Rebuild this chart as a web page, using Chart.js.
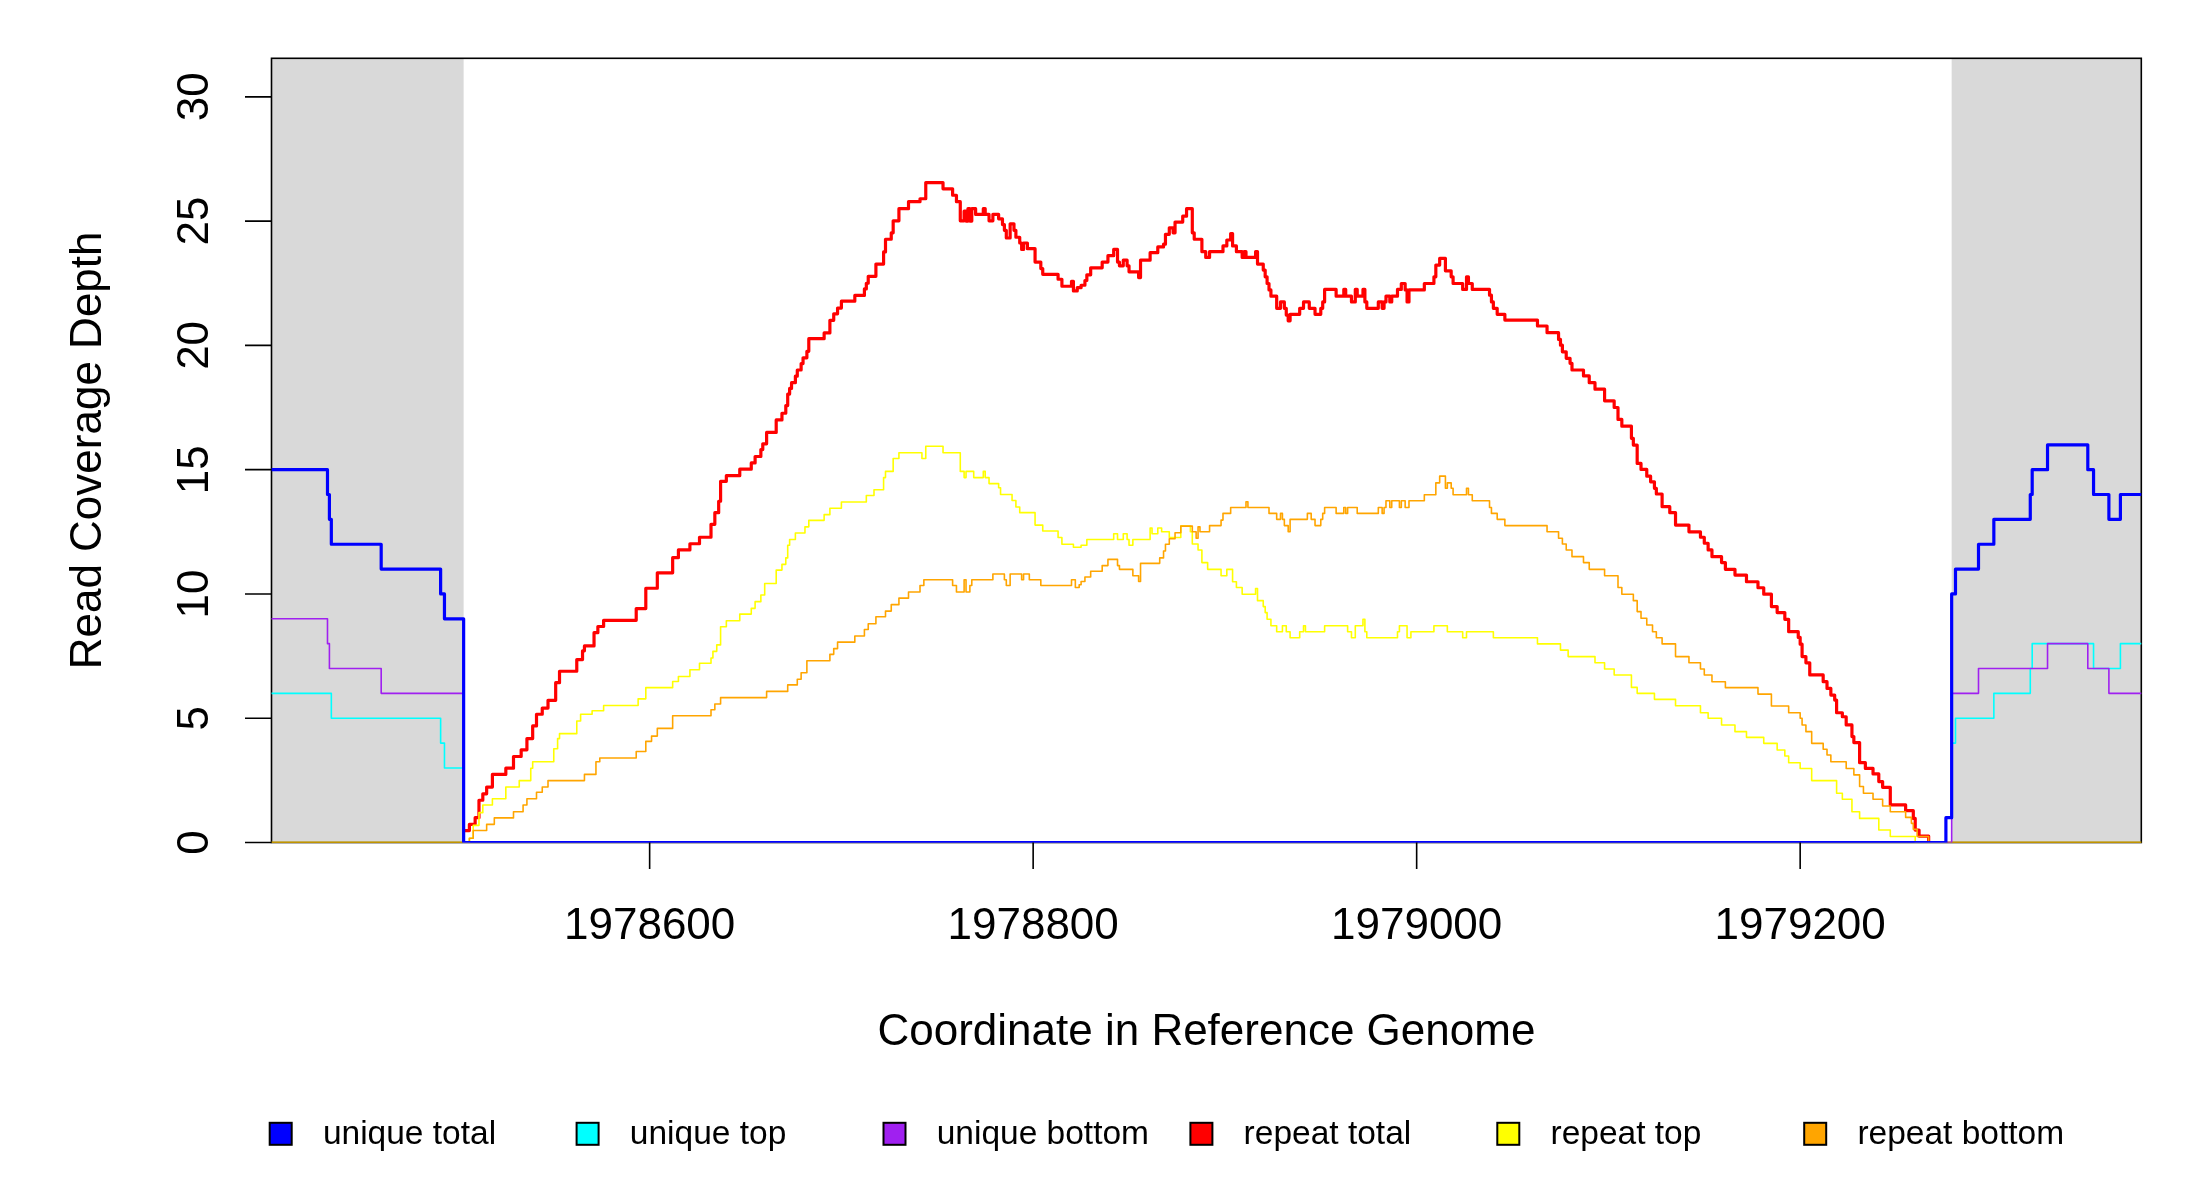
<!DOCTYPE html>
<html>
<head>
<meta charset="utf-8">
<title>Read Coverage Depth</title>
<script src="https://cdn.jsdelivr.net/npm/chart.js@4/dist/chart.umd.min.js"></script>
<style>
  html, body { margin: 0; padding: 0; background: #ffffff; overflow: hidden; }
  #c { display: block; width: 2200px; height: 1200px; }
</style>
</head>
<body>
<canvas id="c" width="2200" height="1200"></canvas>
<script>
// ---------------- data ----------------
const xTitle = 'Coordinate in Reference Genome';
const yTitle = 'Read Coverage Depth';
const seriesLabels = ['unique total', 'unique top', 'unique bottom', 'repeat total', 'repeat top', 'repeat bottom'];
const xTickValues = [1978600, 1978800, 1979000, 1979200];
const yTickValues = [0, 5, 10, 15, 20, 25, 30];
const xRange = [1978402.8, 1979377.9];
const yRange = [0, 31.55];
const flankStarts = [1978402.8, 1979279];
const flankEnds = [1978503, 1979377.9];

const uniqueTotalX = [1978402,1978432,1978433,1978434,1978460,1978491,1978493,1978503,1979276,1979279,1979281,1979293,1979301,1979320,1979321,1979329,1979350,1979353,1979361,1979367,1979379];
const uniqueTotalY = [15,14,13,12,11,10,9,0,1,10,11,12,13,14,15,16,15,14,13,14,14];

const uniqueTopX = [1978402,1978434,1978491,1978493,1978503,1979276,1979279,1979281,1979301,1979320,1979321,1979353,1979367,1979379];
const uniqueTopY = [6,5,4,3,0,1,4,5,6,7,8,7,8,8];

const uniqueBottomX = [1978402,1978432,1978433,1978460,1978503,1979279,1979293,1979329,1979350,1979361,1979379];
const uniqueBottomY = [9,8,7,6,0,6,7,8,7,6,6];

const repeatTotalX = [1978503,1978506,1978509,1978511,1978513,1978515,1978518,1978525,1978529,1978533,1978536,1978539,1978541,1978544,1978547,1978551,1978553,1978562,1978565,1978566,1978571,1978573,1978576,1978593,1978598,1978604,1978612,1978615,1978621,1978626,1978632,1978634,1978636,1978637,1978640,1978647,1978653,1978655,1978658,1978659,1978661,1978666,1978669,1978671,1978672,1978673,1978674,1978676,1978677,1978679,1978680,1978682,1978683,1978691,1978694,1978696,1978698,1978700,1978707,1978712,1978713,1978714,1978718,1978722,1978723,1978726,1978727,1978730,1978735,1978741,1978744,1978753,1978758,1978760,1978762,1978764,1978765,1978766,1978767,1978768,1978770,1978774,1978775,1978777,1978779,1978782,1978784,1978785,1978786,1978788,1978790,1978791,1978793,1978794,1978795,1978797,1978801,1978804,1978805,1978813,1978815,1978820,1978821,1978823,1978825,1978827,1978828,1978830,1978836,1978839,1978842,1978844,1978845,1978847,1978849,1978850,1978855,1978856,1978861,1978865,1978868,1978869,1978871,1978873,1978874,1978878,1978880,1978883,1978884,1978888,1978890,1978892,1978899,1978901,1978903,1978904,1978906,1978909,1978910,1978911,1978916,1978917,1978920,1978921,1978922,1978923,1978924,1978927,1978929,1978931,1978932,1978933,1978934,1978939,1978941,1978944,1978947,1978950,1978951,1978952,1978958,1978962,1978963,1978966,1978968,1978969,1978972,1978973,1978974,1978980,1978982,1978983,1978984,1978986,1978987,1978990,1978992,1978994,1978995,1978996,1979004,1979009,1979010,1979012,1979015,1979018,1979019,1979024,1979026,1979027,1979029,1979038,1979039,1979040,1979042,1979046,1979063,1979068,1979074,1979075,1979076,1979078,1979080,1979081,1979087,1979090,1979093,1979098,1979103,1979105,1979107,1979112,1979113,1979115,1979117,1979120,1979122,1979124,1979125,1979128,1979132,1979135,1979142,1979148,1979150,1979152,1979154,1979159,1979161,1979166,1979172,1979178,1979181,1979185,1979188,1979192,1979194,1979199,1979200,1979201,1979203,1979205,1979212,1979214,1979216,1979218,1979219,1979222,1979224,1979227,1979228,1979231,1979234,1979238,1979241,1979243,1979247,1979255,1979259,1979260,1979262,1979267];
const repeatTotalY = [0.48,0.73,1.0,1.7,1.96,2.23,2.74,2.99,3.46,3.73,4.18,4.69,5.16,5.41,5.72,6.43,6.89,7.36,7.71,7.91,8.44,8.69,8.94,9.41,10.23,10.85,11.46,11.77,12.02,12.28,12.8,13.27,13.73,14.53,14.76,15.02,15.27,15.53,15.81,16.04,16.5,17.0,17.27,17.58,18.04,18.27,18.5,18.76,19.01,19.27,19.5,19.76,20.27,20.5,21.01,21.27,21.5,21.78,22.01,22.27,22.5,22.78,23.27,23.76,24.27,24.53,25.01,25.5,25.78,25.9,26.55,26.3,26.04,25.78,25.01,25.4,25.0,25.5,25.0,25.5,25.27,25.5,25.27,25.01,25.27,25.09,24.86,24.63,24.32,24.89,24.63,24.35,24.12,23.86,24.12,23.89,23.35,23.09,22.86,22.66,22.38,22.58,22.19,22.32,22.42,22.61,22.84,23.12,23.35,23.61,23.86,23.35,23.2,23.43,23.2,22.96,22.73,23.43,23.73,23.96,24.07,24.47,24.73,24.53,24.96,25.2,25.5,24.53,24.27,23.77,23.54,23.77,24.0,24.24,24.5,24.0,23.77,23.54,23.77,23.54,23.77,23.27,23.03,22.76,22.49,22.23,21.98,21.49,21.75,21.49,21.22,20.99,21.25,21.49,21.75,21.49,21.25,21.49,21.75,22.25,21.98,22.25,21.98,21.75,22.25,21.98,22.25,21.75,21.49,21.75,21.49,21.75,21.98,21.75,21.98,22.25,22.49,22.23,21.75,22.23,22.49,22.76,23.23,23.5,23.0,22.76,22.49,22.25,22.76,22.49,22.25,22.02,21.75,21.49,21.25,21.02,20.78,20.51,20.24,20.01,19.74,19.48,19.28,19.01,18.77,18.5,18.24,17.77,17.5,17.02,16.75,16.26,15.99,15.25,15.01,14.74,14.51,14.25,14.02,13.51,13.27,12.77,12.5,12.28,12.04,11.77,11.5,11.26,10.99,10.76,10.49,10.25,9.99,9.49,9.25,8.98,8.48,8.25,7.98,7.48,7.23,6.74,6.47,6.2,5.93,5.73,5.22,5.06,4.73,4.26,4.02,3.21,2.98,2.76,2.45,2.22,1.51,1.28,0.97,0.5,0.26,0];

const repeatTopX = [1978402,1978506,1978508,1978511,1978513,1978518,1978525,1978532,1978538,1978539,1978550,1978552,1978553,1978562,1978564,1978570,1978576,1978594,1978598,1978612,1978615,1978621,1978626,1978632,1978633,1978635,1978637,1978640,1978647,1978653,1978655,1978658,1978660,1978666,1978669,1978671,1978672,1978673,1978676,1978681,1978683,1978691,1978694,1978700,1978713,1978717,1978722,1978723,1978727,1978730,1978742,1978744,1978753,1978762,1978764,1978765,1978769,1978774,1978775,1978777,1978782,1978783,1978789,1978791,1978793,1978801,1978805,1978813,1978815,1978821,1978825,1978828,1978842,1978844,1978847,1978849,1978850,1978852,1978861,1978862,1978865,1978867,1978871,1978877,1978882,1978883,1978886,1978888,1978891,1978898,1978901,1978904,1978906,1978909,1978916,1978917,1978920,1978921,1978922,1978924,1978927,1978930,1978932,1978934,1978939,1978941,1978942,1978952,1978964,1978966,1978968,1978972,1978973,1978974,1978990,1978991,1978995,1978997,1979009,1979016,1979024,1979026,1979040,1979063,1979075,1979079,1979093,1979098,1979103,1979112,1979115,1979124,1979135,1979148,1979152,1979159,1979166,1979172,1979181,1979188,1979192,1979194,1979200,1979206,1979219,1979222,1979227,1979231,1979241,1979247,1979260,1979379];
const repeatTopY = [0,0.17,0.69,1.2,1.51,1.76,2.23,2.49,2.99,3.25,3.77,4.18,4.38,4.89,5.16,5.3,5.51,5.78,6.23,6.48,6.68,6.95,7.21,7.42,7.69,7.95,8.68,8.92,9.19,9.42,9.69,9.96,10.42,10.96,11.19,11.45,11.96,12.19,12.45,12.7,12.96,13.19,13.45,13.7,13.96,14.19,14.68,14.93,15.45,15.68,15.45,15.94,15.68,14.93,14.68,14.93,14.68,14.93,14.68,14.44,14.27,14.0,13.76,13.5,13.27,12.77,12.53,12.27,12.0,11.88,11.96,12.19,12.42,12.19,12.42,12.19,11.96,12.19,12.65,12.42,12.65,12.5,12.27,12.73,12.5,12.01,11.77,11.26,10.99,10.73,10.99,10.49,10.26,9.99,10.22,9.73,9.49,9.25,8.98,8.72,8.48,8.72,8.48,8.24,8.48,8.72,8.48,8.72,8.48,8.24,8.72,8.98,8.48,8.24,8.48,8.72,8.24,8.48,8.72,8.48,8.24,8.48,8.24,7.99,7.74,7.48,7.23,6.98,6.74,6.24,6.0,5.76,5.5,5.22,5.0,4.73,4.46,4.23,3.99,3.72,3.48,3.21,2.98,2.49,1.98,1.74,1.24,0.97,0.5,0.24,0,0];

const repeatBottomX = [1978402,1978506,1978508,1978515,1978519,1978529,1978534,1978536,1978541,1978544,1978547,1978566,1978572,1978574,1978593,1978598,1978601,1978604,1978612,1978632,1978634,1978637,1978661,1978672,1978677,1978679,1978682,1978694,1978696,1978698,1978707,1978712,1978714,1978718,1978723,1978726,1978730,1978735,1978741,1978743,1978758,1978760,1978764,1978765,1978767,1978768,1978779,1978785,1978786,1978788,1978794,1978795,1978798,1978804,1978820,1978822,1978824,1978825,1978827,1978830,1978836,1978839,1978844,1978845,1978852,1978855,1978856,1978866,1978868,1978869,1978871,1978874,1978877,1978883,1978885,1978886,1978887,1978892,1978898,1978899,1978903,1978911,1978912,1978923,1978927,1978929,1978930,1978931,1978933,1978934,1978943,1978945,1978947,1978950,1978951,1978952,1978958,1978962,1978963,1978964,1978969,1978980,1978982,1978983,1978984,1978986,1978987,1978991,1978992,1978994,1978996,1979004,1979010,1979012,1979015,1979016,1979018,1979019,1979026,1979027,1979029,1979038,1979039,1979042,1979046,1979068,1979074,1979076,1979078,1979081,1979087,1979090,1979098,1979105,1979107,1979113,1979115,1979117,1979120,1979123,1979125,1979128,1979135,1979142,1979148,1979150,1979154,1979161,1979178,1979185,1979194,1979200,1979201,1979203,1979206,1979212,1979214,1979216,1979224,1979228,1979231,1979233,1979238,1979243,1979247,1979255,1979258,1979259,1979261,1979267,1979379];
const repeatBottomY = [0,0.17,0.48,0.73,0.99,1.24,1.51,1.76,2.02,2.23,2.49,2.74,3.25,3.4,3.66,4.07,4.28,4.59,5.1,5.34,5.57,5.83,6.08,6.34,6.57,6.83,7.31,7.57,7.8,8.06,8.31,8.57,8.8,9.08,9.31,9.57,9.83,10.08,10.34,10.57,10.34,10.08,10.57,10.08,10.34,10.57,10.8,10.57,10.34,10.8,10.57,10.8,10.57,10.34,10.57,10.26,10.37,10.5,10.68,10.91,11.14,11.39,11.14,10.99,10.73,10.5,11.23,11.45,11.73,12.0,12.22,12.46,12.73,12.5,12.24,12.7,12.5,12.75,12.97,13.24,13.48,13.71,13.48,13.24,13.0,13.24,13.0,12.75,12.5,13.0,13.24,13.0,12.75,13.0,13.24,13.48,13.24,13.48,13.24,13.48,13.24,13.48,13.24,13.48,13.75,13.48,13.75,13.48,13.75,13.48,13.75,13.99,14.47,14.74,14.25,14.47,14.25,13.99,14.25,13.99,13.75,13.48,13.24,13.0,12.75,12.5,12.24,12.01,11.77,11.5,11.26,10.99,10.73,10.26,9.99,9.73,9.29,9.02,8.75,8.48,8.24,7.99,7.48,7.23,6.98,6.74,6.47,6.23,5.97,5.49,5.22,5.0,4.73,4.46,3.99,3.75,3.52,3.25,2.98,2.72,2.25,1.98,1.74,1.47,1.24,1.01,0.77,0.53,0.24,0,0];

// ---------------- chart ----------------
const FONT = '"Liberation Sans", Arial, Helvetica, sans-serif';
const toPoints = (xs, ys) => xs.map((v, i) => ({ x: v, y: ys[i] }));

const seriesDefs = [
  { label: seriesLabels[0], xs: uniqueTotalX,  ys: uniqueTotalY,  color: '#0000FF', width: 3.2, order: 0 },
  { label: seriesLabels[1], xs: uniqueTopX,    ys: uniqueTopY,    color: '#00FFFF', width: 1.6, order: 2 },
  { label: seriesLabels[2], xs: uniqueBottomX, ys: uniqueBottomY, color: '#A020F0', width: 1.6, order: 1 },
  { label: seriesLabels[3], xs: repeatTotalX,  ys: repeatTotalY,  color: '#FF0000', width: 3.2, order: 5 },
  { label: seriesLabels[4], xs: repeatTopX,    ys: repeatTopY,    color: '#FFFF00', width: 1.6, order: 4 },
  { label: seriesLabels[5], xs: repeatBottomX, ys: repeatBottomY, color: '#FFA500', width: 1.6, order: 3 }
];

const rPlot = {
  id: 'rPlot',
  beforeDatasetsDraw(chart) {
    const { ctx, chartArea: a, scales: { x } } = chart;
    ctx.save();
    ctx.fillStyle = '#D9D9D9';
    flankStarts.forEach((s, i) => {
      const x0 = Math.max(x.getPixelForValue(s), a.left);
      const x1 = Math.min(x.getPixelForValue(flankEnds[i]), a.right);
      ctx.fillRect(x0, a.top, x1 - x0, a.bottom - a.top);
    });
    // box (drawn before the lines, as R does)
    ctx.strokeStyle = '#000000';
    ctx.lineWidth = 1.6;
    ctx.strokeRect(a.left, a.top, a.right - a.left, a.bottom - a.top);
    ctx.restore();
  },
  afterDraw(chart) {
    const { ctx, chartArea: a, scales: { x, y } } = chart;
    ctx.save();
    ctx.strokeStyle = '#000000';
    ctx.lineWidth = 1.6;
    // tick marks
    const tl = 26.5;
    ctx.beginPath();
    xTickValues.forEach(v => {
      const px = x.getPixelForValue(v);
      ctx.moveTo(px, a.bottom); ctx.lineTo(px, a.bottom + tl);
    });
    yTickValues.forEach(v => {
      const py = y.getPixelForValue(v);
      ctx.moveTo(a.left - tl, py); ctx.lineTo(a.left, py);
    });
    ctx.stroke();
    // tick labels
    ctx.fillStyle = '#000000';
    ctx.font = '44px ' + FONT;
    ctx.textAlign = 'center';
    ctx.textBaseline = 'alphabetic';
    xTickValues.forEach(v => ctx.fillText(String(v), x.getPixelForValue(v), a.bottom + 96.8));
    yTickValues.forEach(v => {
      ctx.save();
      ctx.translate(a.left - 63.2, y.getPixelForValue(v));
      ctx.rotate(-Math.PI / 2);
      ctx.fillText(String(v), 0, 0);
      ctx.restore();
    });
    // axis titles
    ctx.fillText(xTitle, (a.left + a.right) / 2, a.bottom + 202.5);
    ctx.save();
    ctx.translate(a.left - 170.5, (a.top + a.bottom) / 2);
    ctx.rotate(-Math.PI / 2);
    ctx.fillText(yTitle, 0, 0);
    ctx.restore();
    // legend
    ctx.font = '33.5px ' + FONT;
    ctx.textAlign = 'left';
    chart.data.datasets.forEach((ds, i) => {
      const cx = 280.7 + 306.9 * i, cy = 1133.8, h = 11;
      ctx.fillStyle = ds.borderColor;
      ctx.fillRect(cx - h, cy - h, 2 * h, 2 * h);
      ctx.strokeStyle = '#000000';
      ctx.lineWidth = 2;
      ctx.strokeRect(cx - h, cy - h, 2 * h, 2 * h);
      ctx.fillStyle = '#000000';
      ctx.fillText(ds.label, cx + 42.2, 1144);
    });
    ctx.restore();
  }
};

new Chart(document.getElementById('c'), {
  type: 'line',
  data: {
    datasets: seriesDefs.map(s => ({
      label: s.label,
      data: toPoints(s.xs, s.ys),
      borderColor: s.color,
      backgroundColor: s.color,
      borderWidth: s.width,
      stepped: 'before',
      pointRadius: 0,
      fill: false,
      order: s.order,
      borderJoinStyle: 'round',
      borderCapStyle: 'butt'
    }))
  },
  options: {
    responsive: false,
    devicePixelRatio: 1,
    animation: false,
    events: [],
    layout: { padding: { left: 0, right: 2200 - 2141.3, top: 58.3, bottom: 0 } },
    plugins: { legend: { display: false }, tooltip: { enabled: false }, title: { display: false } },
    scales: {
      x: {
        type: 'linear',
        min: xRange[0], max: xRange[1],
        grid: { display: false }, border: { display: false },
        ticks: { display: false },
        afterFit(s) { s.height = 1200 - 842.5; }
      },
      y: {
        type: 'linear',
        min: yRange[0], max: yRange[1],
        grid: { display: false }, border: { display: false },
        ticks: { display: false },
        afterFit(s) { s.width = 271.5; }
      }
    }
  },
  plugins: [rPlot]
});
</script>
</body>
</html>
